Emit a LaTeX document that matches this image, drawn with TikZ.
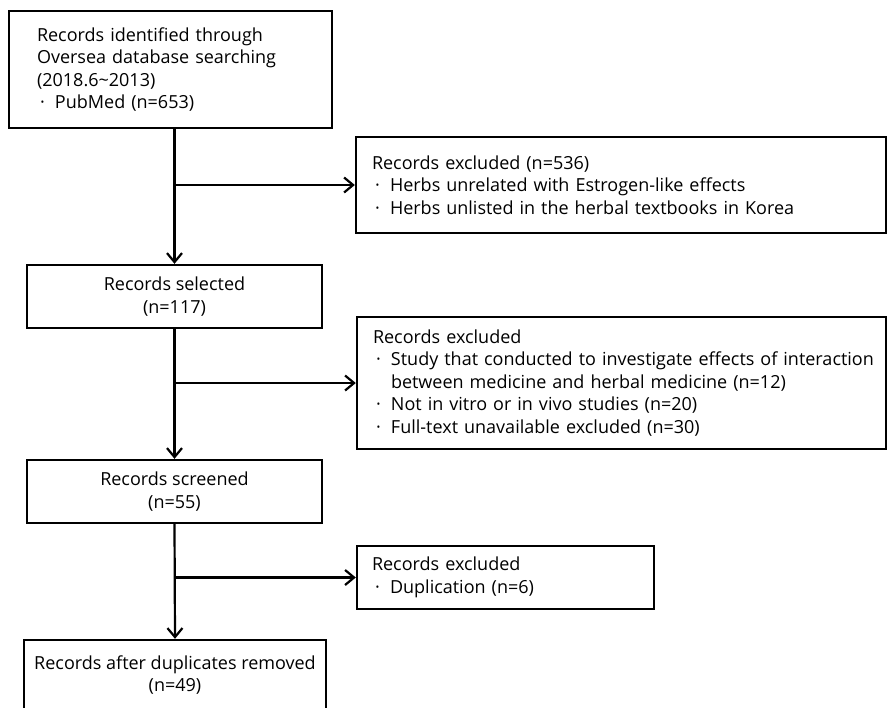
\documentclass[tikz,border=0pt]{standalone}
\usepackage{fontspec}
\setmainfont{Open Sans}
\usetikzlibrary{arrows.meta}
\newcommand{\bul}{\makebox[18pt][l]{\hspace{3pt}·}}
\newcommand{\cont}{\hspace*{18pt}}

\begin{document}
\begin{tikzpicture}[x=1pt,y=1pt,yscale=-1,xscale=1,
  box/.style={draw, line width=2.4pt, inner sep=0pt, font=\fontsize{18}{22.5}\selectfont},
  flow/.style={line width=2.2pt, -{Straight Barb[length=9pt,width=15pt,line width=2.2pt]}}]
\useasboundingbox (0,0) rectangle (888,707);

%Shape: Rectangle [records identified]
\draw (170.5,69.5) node [box, minimum width=323, minimum height=117, text width=267, align=left] (ident) {Records identified through\\Oversea database searching\\(2018.6\textasciitilde2013)\\\bul PubMed (n=653)};
%Shape: Rectangle [excluded 1]
\draw (621,185) node [box, minimum width=530, minimum height=96, text width=498, align=left] (excl1) {Records excluded (n=536)\\\bul Herbs unrelated with Estrogen-like effects\\\bul Herbs unlisted in the herbal textbooks in Korea};
%Shape: Rectangle [records selected]
\draw (174.5,296.5) node [box, minimum width=295, minimum height=63, align=center] (sel) {Records selected\\(n=117)};
%Shape: Rectangle [excluded 2]
\draw (621.5,383) node [box, minimum width=529, minimum height=132, text width=497, align=left] (excl2) {Records excluded\\\mbox{\bul Study that conducted to investigate effects of interaction}\\\cont between medicine and herbal medicine (n=12)\\\bul Not in vitro or in vivo studies (n=20)\\\bul Full-text unavailable excluded (n=30)};
%Shape: Rectangle [records screened]
\draw (174.5,491.5) node [box, minimum width=295, minimum height=63, align=center] (scr) {Records screened\\(n=55)};
%Shape: Rectangle [excluded 3]
\draw (505.5,577.5) node [box, minimum width=297, minimum height=63, text width=267, align=left] (excl3) {Records excluded\\\bul Duplication (n=6)};
%Shape: Rectangle [after duplicates removed]
\draw (175,675) node [box, minimum width=302, minimum height=70, align=center] (dedup) {Records after duplicates removed\\(n=49)};

%Straight Lines
\draw [flow] (sel.north |- ident.south) -- (sel.north);
\draw [flow] (sel.north |- excl1.west) -- (excl1.west);
\draw [flow] (sel.south) -- (scr.north);
\draw [flow] (sel.south |- excl2.west) -- (excl2.west);
\draw [flow] (scr.south) -- (dedup.north);
\draw [flow] (scr.south |- excl3.west) -- (excl3.west);

\end{tikzpicture}
\end{document}
